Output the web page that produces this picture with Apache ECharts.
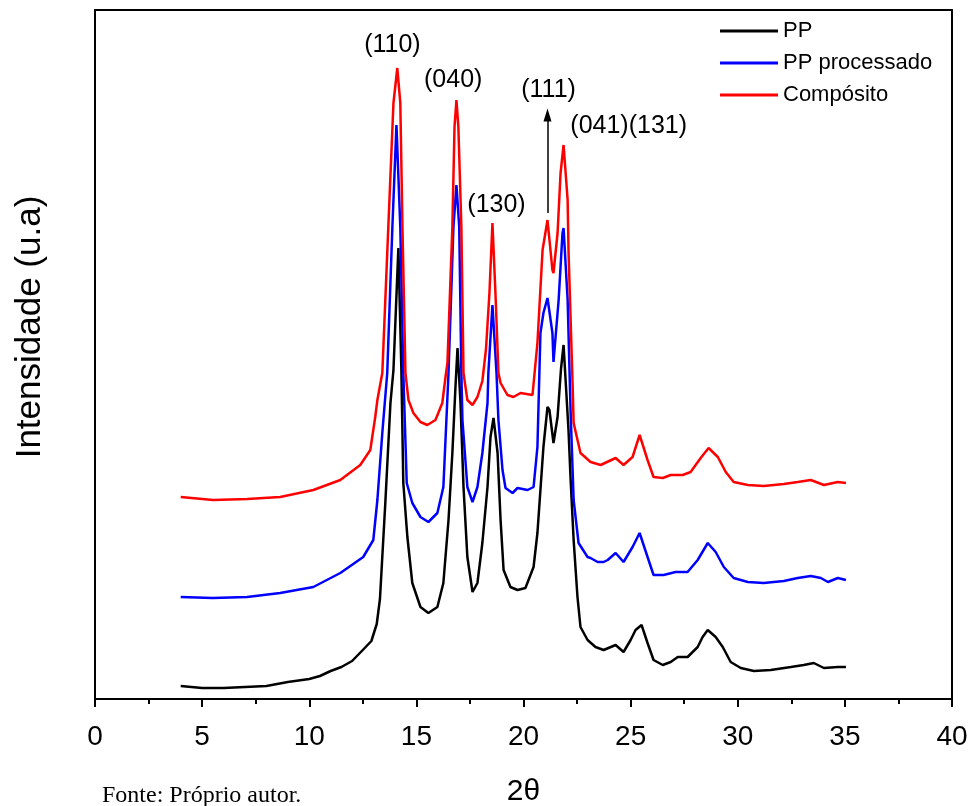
<!DOCTYPE html>
<html>
<head>
<meta charset="utf-8">
<script src="https://cdn.jsdelivr.net/npm/echarts@6/dist/echarts.min.js"></script>
<style>
html,body{margin:0;padding:0;background:#fff;}
#chart{width:970px;height:806px;}
</style>
</head>
<body>
<div id="chart"></div>
<script>
// ---- Data (2θ, intensity in arbitrary units) ----
var seriesNames = ['PP', 'PP processado', 'Compósito'];
var xTicks = [0, 5, 10, 15, 20, 25, 30, 35, 40];

var pp = [
  [4.0, 13], [5.0, 11], [6.0, 11], [7.0, 12], [8.0, 13], [9.0, 17], [10.0, 20], [10.5, 23],
  [11.0, 28], [11.5, 32], [12.0, 38], [12.5, 49], [12.9, 58], [13.15, 75], [13.3, 100], [13.55, 196],
  [13.79, 296], [13.93, 329], [14.16, 451], [14.3, 329], [14.39, 216], [14.58, 162],
  [14.81, 116], [15.19, 92], [15.56, 86], [15.98, 92], [16.26, 116], [16.5, 179],
  [16.68, 246], [16.82, 310], [16.92, 351], [17.06, 296], [17.2, 212], [17.38, 142],
  [17.62, 107], [17.85, 116], [18.08, 156], [18.32, 212], [18.46, 262], [18.6, 281],
  [18.79, 246], [18.93, 179], [19.07, 129], [19.39, 112], [19.72, 109], [20.09, 111],
  [20.47, 132], [20.65, 166], [20.79, 209], [20.93, 252], [21.12, 292], [21.21, 289],
  [21.4, 256], [21.59, 282], [21.75, 330], [21.87, 354], [22.1, 269], [22.2, 219],
  [22.34, 159], [22.52, 102], [22.66, 72], [22.99, 59], [23.36, 52], [23.74, 49],
  [24.3, 54], [24.67, 47], [25.0, 59], [25.23, 69], [25.51, 74], [25.79, 56], [26.07, 39],
  [26.5, 34], [26.87, 37], [27.2, 42], [27.66, 42], [28.13, 52], [28.36, 62], [28.6, 69],
  [28.97, 62], [29.3, 52], [29.67, 37], [30.14, 31], [30.75, 28], [31.54, 29], [32.48, 32],
  [33.08, 34], [33.55, 36], [34.02, 31], [34.67, 32], [35.05, 32]
];

var ppProcessado = [
  [4.0, 102], [5.5, 101], [7.1, 102], [8.64, 106], [10.19, 112], [11.45, 126], [12.52, 142],
  [12.99, 159], [13.18, 199], [13.41, 266], [13.64, 326], [13.88, 472], [14.07, 574],
  [14.25, 472], [14.39, 326], [14.55, 216], [14.81, 196], [15.19, 182], [15.56, 177],
  [15.98, 186], [16.26, 212], [16.5, 326], [16.73, 472], [16.87, 514], [17.0, 472],
  [17.1, 326], [17.15, 279], [17.38, 212], [17.62, 197], [17.85, 212], [18.08, 246],
  [18.32, 296], [18.36, 326], [18.55, 394], [18.74, 326], [18.83, 279], [19.02, 229],
  [19.16, 211], [19.49, 206], [19.72, 211], [20.19, 209], [20.47, 212], [20.65, 252],
  [20.79, 366], [20.93, 386], [21.12, 401], [21.35, 366], [21.4, 337], [21.64, 399],
  [21.82, 466], [21.87, 471], [22.06, 399], [22.2, 286], [22.34, 199], [22.57, 156],
  [22.99, 142], [23.13, 141], [23.46, 137], [23.74, 137], [23.93, 139], [24.3, 146],
  [24.67, 137], [25.09, 152], [25.42, 166], [25.79, 142], [26.07, 124], [26.54, 124],
  [27.1, 127], [27.66, 127], [28.13, 139], [28.6, 156], [28.97, 147], [29.35, 132],
  [29.81, 121], [30.47, 117], [31.21, 116], [32.15, 118], [32.8, 121], [33.41, 123],
  [33.88, 121], [34.21, 117], [34.67, 121], [35.05, 119]
];

var composito = [
  [4.0, 202], [5.51, 199], [7.1, 200], [8.64, 202], [10.19, 209], [11.45, 219], [12.38, 234],
  [12.85, 249], [13.08, 282], [13.18, 299], [13.41, 326], [13.69, 472], [13.93, 596],
  [14.11, 631], [14.25, 596], [14.35, 472], [14.49, 326], [14.63, 299], [14.86, 286],
  [15.19, 277], [15.51, 274], [15.89, 279], [16.21, 296], [16.36, 322], [16.45, 336],
  [16.68, 472], [16.78, 572], [16.87, 599], [16.96, 572], [17.1, 472], [17.2, 326],
  [17.38, 299], [17.62, 294], [17.85, 302], [18.08, 318], [18.25, 350], [18.41, 406],
  [18.55, 476], [18.69, 406], [18.83, 326], [18.93, 316], [19.25, 304], [19.53, 302],
  [19.86, 306], [20.42, 304], [20.65, 356], [20.89, 449], [21.12, 479], [21.35, 429],
  [21.4, 426], [21.59, 466], [21.73, 526], [21.87, 554], [22.06, 499], [22.1, 449],
  [22.29, 316], [22.34, 276], [22.66, 246], [23.13, 237], [23.6, 234], [24.3, 241],
  [24.67, 234], [25.09, 242], [25.42, 264], [25.79, 239], [26.07, 222], [26.5, 221],
  [26.87, 224], [27.43, 224], [27.8, 227], [28.27, 241], [28.64, 251], [29.07, 242],
  [29.44, 227], [29.81, 217], [30.47, 214], [31.21, 213], [32.15, 215], [32.8, 217],
  [33.41, 219], [34.02, 214], [34.67, 217], [35.05, 216]
];

// Peak annotations [2θ, intensity, label]
var peakLabels = [
  [13.88, 654, '(110)'],
  [16.72, 619, '(040)'],
  [18.74, 494, '(130)'],
  [21.17, 609, '(111)'],
  [24.91, 573, '(041)(131)']
];
// Arrow marking the (111) peak: [2θ, from intensity, to intensity]
var arrow111 = [21.12, 486, 584];

var colors = ['#000000', '#0000ff', '#ff0000'];

var chart = echarts.init(document.getElementById('chart'), null, {renderer: 'canvas'});
var fontSans = 'Arial, "Liberation Sans", sans-serif';

function lineSeries(name, data, color, z) {
  return {
    name: name, type: 'line', data: data, showSymbol: false, symbol: 'none',
    smooth: false, sampling: null, z: z,
    lineStyle: {color: color, width: 2.5},
    itemStyle: {color: color},
    emphasis: {disabled: true}, silent: true
  };
}

var option = {
  animation: false,
  backgroundColor: '#ffffff',
  grid: {left: 95, right: 18, top: 10, bottom: 107, containLabel: false, outerBoundsMode: 'none'},
  legend: {
    data: seriesNames,
    orient: 'vertical',
    left: 720, top: 20, padding: 0,
    icon: 'rect', itemWidth: 58, itemHeight: 3, itemGap: 10,
    textStyle: {fontSize: 22, fontFamily: fontSans, color: '#000', lineHeight: 22},
    selectedMode: false
  },
  xAxis: [{
    type: 'value', min: 0, max: 40, interval: 5,
    axisLine: {show: true, onZero: false, lineStyle: {color: '#000', width: 2}},
    axisTick: {show: true, inside: false, length: 8, lineStyle: {color: '#000', width: 2}},
    minorTick: {show: true, splitNumber: 2, length: 5, lineStyle: {color: '#000', width: 2}},
    splitLine: {show: false}, minorSplitLine: {show: false},
    axisLabel: {fontSize: 28, color: '#000', fontFamily: fontSans, margin: 24,
      formatter: function (v) { return xTicks.indexOf(v) >= 0 ? String(v) : ''; }},
    name: '2θ', nameLocation: 'middle', nameGap: 78,
    nameTextStyle: {fontSize: 30, color: '#000', fontFamily: fontSans}
  }, {
    type: 'value', min: 0, max: 40, position: 'top',
    axisLine: {show: true, onZero: false, lineStyle: {color: '#000', width: 2}},
    axisTick: {show: false}, axisLabel: {show: false}, splitLine: {show: false}
  }],
  yAxis: [{
    type: 'value', min: 0, max: 689,
    axisLine: {show: true, onZero: false, lineStyle: {color: '#000', width: 2}},
    axisTick: {show: false}, axisLabel: {show: false}, splitLine: {show: false}
  }, {
    type: 'value', min: 0, max: 689, position: 'right',
    axisLine: {show: true, onZero: false, lineStyle: {color: '#000', width: 2}},
    axisTick: {show: false}, axisLabel: {show: false}, splitLine: {show: false}
  }],
  series: [
    lineSeries(seriesNames[0], pp, colors[0], 3),
    lineSeries(seriesNames[1], ppProcessado, colors[1], 4),
    lineSeries(seriesNames[2], composito, colors[2], 5),
    {
      name: 'labels', type: 'scatter', symbolSize: 1, silent: true, z: 6,
      itemStyle: {color: 'rgba(255,255,255,0)'},
      data: peakLabels.map(function (p) { return {value: [p[0], p[1]], name: p[2]}; }),
      label: {show: true, position: 'inside', formatter: '{b}', opacity: 1,
        fontSize: 25, color: '#000', textBorderWidth: 0, fontFamily: fontSans},
      markLine: {
        silent: true, animation: false,
        symbol: ['none', 'triangle'], symbolSize: [8, 13],
        lineStyle: {type: 'solid', color: '#000', width: 1.5},
        label: {show: false},
        data: [[{coord: [arrow111[0], arrow111[1]]}, {coord: [arrow111[0], arrow111[2]]}]]
      }
    }
  ],
  graphic: [
    {
      type: 'text', x: 30, y: 327, rotation: Math.PI / 2,
      style: {text: 'Intensidade (u.a)', fontSize: 35, fontFamily: fontSans, fill: '#000',
        textAlign: 'center', textVerticalAlign: 'middle'}
    },
    {
      type: 'text', left: 102, top: 784,
      style: {text: 'Fonte: Próprio autor.', fontSize: 24,
        fontFamily: '"Liberation Serif", "Times New Roman", serif', fill: '#000'}
    }
  ]
};
chart.setOption(option);
</script>
</body>
</html>
